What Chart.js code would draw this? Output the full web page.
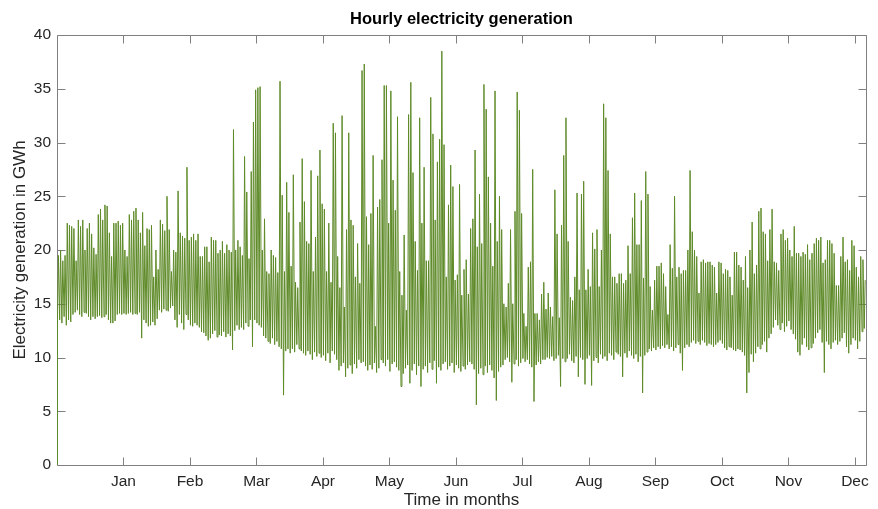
<!DOCTYPE html>
<html>
<head>
<meta charset="utf-8">
<script src="https://cdn.jsdelivr.net/npm/chart.js@4.4.1/dist/chart.umd.min.js"></script>
<style>
    html, body { margin: 0; padding: 0; background: #ffffff; }
    #wrap { width: 878px; height: 509px; }
</style>
</head>
<body>
<div id="wrap"><canvas id="generationChart" width="878" height="509"></canvas></div>
<script>
// Month tick labels and their hour positions on the x axis
const monthLabels = ['Jan', 'Feb', 'Mar', 'Apr', 'May', 'Jun', 'Jul', 'Aug', 'Sep', 'Oct', 'Nov', 'Dec'];
const monthTickHours = [720, 1440, 2160, 2880, 3600, 4320, 5040, 5760, 6480, 7200, 7920, 8640];

// First hour of the year (no reading)
const firstHourValue = 0;

// Daily peak generation in GWh (day 0 .. 364)
const dailyHigh = [
    19.5, 20, 19, 19.5, 22.5, 22.3, 22.2, 22, 19, 22.8,
    22.2, 22.8, 20, 22, 22.5, 21.5, 20.2, 19.6, 23.3, 23.8,
    22.8, 24.2, 24.1, 21.6, 19.4, 22.5, 22.5, 22.7, 22.3, 22.5,
    20, 19.4, 23.3, 22.8, 23.6, 23.9, 22.8, 21.6, 23.5, 20.4,
    22, 21.9, 22.3, 17.5, 20, 18.2, 22.8, 22.4, 21.8, 25,
    21.9, 18, 20, 19.8, 25.5, 21.6, 21.3, 21.1, 27.7, 20.9,
    21.2, 21.5, 20.9, 21.5, 19.4, 19.4, 20.3, 20.3, 18.9, 21.2,
    20.9, 20.9, 19.7, 20, 20.8, 19.7, 20.5, 20, 19.8, 31.2,
    20, 20.9, 20.3, 19.5, 28.7, 25.4, 19.2, 27.3, 31.9, 34.9,
    35.1, 35.2, 20, 22.9, 18, 17.8, 20, 19.5, 19.3, 17.9,
    35.7, 25.1, 18, 26.3, 23.5, 18.5, 27, 17, 16.5, 22.6,
    28.5, 24.5, 20.8, 20.6, 27.4, 18, 21.2, 26.9, 29.3, 24.3,
    23.8, 18, 22.5, 17, 31.8, 30.9, 19.4, 16.5, 32.5, 14.7,
    21.9, 30.9, 22.8, 22.3, 17.5, 20.6, 16.9, 36.7, 37.3, 23.1,
    20.5, 23.4, 28.8, 12.9, 24, 24.7, 28.4, 35.3, 35.3, 22.5,
    34.8, 26.5, 23.7, 32.4, 18, 15.8, 21.4, 14.4, 32.6, 35.6,
    27.2, 20.8, 18.1, 32.3, 22.5, 27.7, 19, 19, 34.2, 30.8,
    22.8, 28.2, 30.3, 38.5, 29.8, 17.5, 24.2, 27.9, 25.9, 17.2,
    17.7, 26.1, 15.8, 18.2, 19.1, 15.9, 22, 22.9, 29.3, 20.3,
    25.2, 20.6, 35.4, 33.1, 26.8, 22.5, 18.5, 34.8, 20.8, 25,
    21.9, 15, 14.7, 16.9, 21.9, 15, 23.6, 34.7, 33, 23.4,
    14.1, 12.9, 18.4, 18.9, 27.5, 14.1, 14.1, 13.5, 15.9, 17,
    14.5, 16, 14.7, 13.8, 25.6, 21.5, 13.7, 22.3, 28.8, 32.3,
    20.8, 15.6, 15.3, 17.5, 25.3, 16.3, 25.2, 26.4, 16.3, 18.2,
    16.6, 21.6, 20.1, 21.9, 16.6, 20, 33.6, 32.3, 27.4, 21.5,
    17.5, 17.5, 16.9, 17.8, 17.8, 16.9, 17.2, 20.4, 17.8, 23,
    25.3, 20.5, 20.5, 24.6, 17.4, 27.3, 25.2, 16.6, 14.4, 17.2,
    18.5, 18.5, 18.8, 17.8, 16.6, 14, 20.5, 18.3, 25, 17.5,
    18.4, 17.8, 18.1, 18.1, 20, 27.4, 21.7, 20, 19.4, 16,
    18.9, 19.1, 18.8, 18.9, 18.9, 18.6, 18.4, 16, 18.9, 18.8,
    17.8, 18.2, 18.1, 17.5, 15.8, 19.8, 19.8, 18.6, 18.4, 17.2,
    19.4, 16.5, 20, 22.6, 17.8, 18.6, 23.6, 23.9, 21.7, 21.5,
    19, 21.9, 23.8, 18.9, 18.8, 18.1, 21.5, 21.9, 20.9, 21.1,
    20, 19.4, 22.2, 19.7, 19.7, 19.4, 19.8, 19.6, 20.5, 19.1,
    19.7, 20.6, 21.1, 20.9, 21.2, 18.8, 19.1, 20.9, 20.9, 20.6,
    19.7, 16.7, 16.7, 19.4, 21.2, 18.9, 19.1, 18.1, 20.9, 20.4,
    18.4, 17.5, 19.4, 19.1, 17.2
];

// Daily low generation in GWh (day 0 .. 364)
const dailyLow = [
    13.5, 13.5, 13.2, 13.8, 13, 13.5, 13.3, 14, 14.2, 14.4,
    14, 13.8, 14.2, 14.1, 13.8, 13.5, 13.8, 13.6, 13.8, 13.9,
    13.7, 13.8, 14, 13.5, 13.2, 13.2, 13.4, 14, 14.1, 14,
    14.1, 14, 14.1, 14.2, 14, 14.1, 14, 14.2, 11.8, 13.5,
    13.2, 12.9, 13, 13.3, 13, 13.6, 14.4, 14.2, 14.5, 14.4,
    14.3, 14.6, 14.8, 13.5, 12.8, 14, 13.2, 12.6, 14, 13.5,
    13, 12.9, 13.2, 13, 12.8, 12.4, 12.3, 12, 11.6, 11.8,
    12.2, 12.5, 11.9, 12.1, 12, 12.4, 11.9, 12.2, 12, 10.7,
    12.5, 13, 12.6, 12.8, 12.6, 13.2, 12.9, 13.5, 11, 13.5,
    13.2, 13, 12.8, 12, 11.8, 11.5, 11.3, 11.8, 11.2, 11.5,
    11, 10.8, 6.5, 10.6, 10.8, 10.4, 10.8, 10.5, 11.2, 10.8,
    10.6, 10.4, 10.2, 10.6, 10.3, 9.8, 10.5, 10.1, 10.4, 10,
    10.2, 9.7, 10.4, 9.5, 10.6, 10.3, 9.8, 8.8, 9.2, 9.5,
    8.2, 9, 9.3, 8.5, 9.4, 9, 9.8, 9.5, 9.6, 9.2,
    8.8, 9.3, 8.9, 9.5, 8.6, 9, 9.8, 9.5, 9.2, 9.8,
    8.7, 9.4, 9.6, 9.1, 8.8, 7.3, 8.5, 9, 9.3, 7.6,
    8.8, 9.4, 8.4, 9.2, 7.3, 8.9, 9.2, 8.6, 9.5, 8.9,
    9.7, 7.6, 9.1, 8.8, 9.4, 9.6, 8.9, 9.2, 9.5, 8.6,
    9.3, 9, 8.7, 9.2, 8.9, 9.3, 9.6, 9.4, 8.9, 5.6,
    8.5, 9, 8.4, 9.2, 8.6, 9.3, 8.8, 8.1, 6, 8.7,
    9.1, 9.3, 9.8, 10, 9.6, 7.7, 9.4, 9.8, 9.2, 9.5,
    9.9, 9.6, 9.8, 9.4, 9.1, 5.9, 9.3, 9.6, 9.4, 9.8,
    9.8, 10, 9.9, 10.1, 9.7, 9.9, 10.2, 7.3, 9.9, 9.6,
    9.9, 10.3, 9.7, 9.5, 10.1, 8.2, 10, 9.8, 7.5, 9.9,
    10.2, 7.4, 9.7, 10, 9.5, 10.3, 9.9, 10.1, 9.7, 10.4,
    10.2, 9.8, 10.5, 10.3, 10.1, 8.2, 10.4, 10, 10.6, 10.2,
    9.9, 10.3, 9.6, 10.1, 6.7, 10.2, 10.5, 10.8, 10.6, 10.9,
    10.7, 11, 10.8, 11.1, 10.9, 11.2, 10.8, 11, 10.6, 10.9,
    11.2, 10.4, 8.8, 10.9, 11.2, 11, 11.4, 11.6, 11.3, 11.5,
    11.2, 11.6, 11.4, 11.1, 11.3, 11.2, 11, 11.2, 11.4, 11.6,
    11.3, 10.9, 10.7, 11, 10.9, 10.7, 10.6, 10.8, 10.7, 10.5,
    10.2, 6.7, 8.6, 10.3, 9.6, 10.4, 11, 10.8, 11.2, 11.5,
    10.5, 11.8, 12.2, 12.8, 13.5, 13, 12.6, 13.2, 12.4, 12.9,
    13.4, 12.6, 12.2, 11.7, 10.5, 10.2, 11.2, 11.8, 11, 10.7,
    10.9, 11.3, 11.8, 12.3, 12.6, 11.4, 8.6, 11.5, 11.2, 10.8,
    11.4, 11.6, 11.2, 11.5, 11.8, 12.3, 11, 10.4, 11.2, 11.8,
    11.6, 10.8, 11.5, 12.4, 12.7
];

// Build the hourly line: night low, then afternoon peak for every day
function buildSeries() {
    const points = [{x: 0, y: firstHourValue}];
    for (let d = 0; d < dailyHigh.length; d++) {
        points.push({x: d * 24 + 5, y: dailyLow[d]});
        points.push({x: d * 24 + 15, y: dailyHigh[d]});
    }
    return points;
}

const axisColor = '#808080';
const textColor = '#262626';
const fontFamily = "'Liberation Sans', Arial, Helvetica, sans-serif";

// Draws the MATLAB style box with inward ticks, plus the title
const boxPlugin = {
    id: 'matlabBox',
    beforeDatasetsDraw(chart) {
        const {ctx, chartArea: a, scales} = chart;
        const left = Math.round(a.left) + 0.5;
        const right = Math.round(a.right) + 0.5;
        const top = Math.round(a.top) + 0.5;
        const bottom = Math.round(a.bottom) + 0.5;
        ctx.save();
        ctx.strokeStyle = axisColor;
        ctx.lineWidth = 1;
        ctx.beginPath();
        ctx.moveTo(left, top);
        ctx.lineTo(right, top);
        ctx.lineTo(right, bottom);
        ctx.lineTo(left, bottom);
        ctx.closePath();
        scales.x.ticks.forEach(t => {
            const px = Math.round(scales.x.getPixelForValue(t.value)) + 0.5;
            ctx.moveTo(px, bottom);
            ctx.lineTo(px, bottom - 8);
            ctx.moveTo(px, top);
            ctx.lineTo(px, top + 8);
        });
        scales.y.ticks.forEach(t => {
            const py = Math.round(scales.y.getPixelForValue(t.value)) + 0.5;
            ctx.moveTo(left, py);
            ctx.lineTo(left + 8, py);
            ctx.moveTo(right, py);
            ctx.lineTo(right - 8, py);
        });
        ctx.stroke();
        ctx.restore();
    },
    afterDraw(chart) {
        const {ctx, chartArea: a} = chart;
        ctx.save();
        ctx.fillStyle = '#000000';
        ctx.font = 'bold 16.5px ' + fontFamily;
        ctx.textAlign = 'center';
        ctx.textBaseline = 'middle';
        ctx.fillText('Hourly electricity generation', (a.left + a.right) / 2, 19);
        ctx.restore();
    }
};

const ctx = document.getElementById('generationChart').getContext('2d');
const myChart = new Chart(ctx, {
    type: 'line',
    data: {
        datasets: [{
            data: buildSeries(),
            borderColor: 'rgb(94, 138, 40)',
            borderWidth: 1,
            pointRadius: 0,
            tension: 0,
            fill: false,
        }],
    },
    options: {
        responsive: false,
        animation: false,
        devicePixelRatio: 1,
        layout: {
            padding: {left: 0, right: 12, top: 35, bottom: 0},
        },
        scales: {
            x: {
                type: 'linear',
                min: 0,
                max: 8760,
                afterFit: scale => { scale.height = 44; },
                afterBuildTicks: axis => axis.ticks = monthTickHours.map(v => ({value: v})),
                grid: {display: false, drawTicks: false},
                border: {display: false},
                ticks: {
                    callback: function (value, index) {
                        return monthLabels[index];
                    },
                    color: textColor,
                    font: {family: fontFamily, size: 15.5},
                    padding: 7,
                    maxRotation: 0,
                    minRotation: 0,
                    autoSkip: false,
                },
                title: {
                    display: true,
                    text: 'Time in months',
                    color: textColor,
                    font: {family: fontFamily, size: 17, lineHeight: 1},
                    padding: {top: 0, bottom: 0},
                },
            },
            y: {
                min: 0,
                max: 40,
                afterFit: scale => { scale.width = 57; },
                grid: {display: false, drawTicks: false},
                border: {display: false},
                ticks: {
                    stepSize: 5,
                    color: textColor,
                    font: {family: fontFamily, size: 15.5},
                    padding: 6,
                },
                title: {
                    display: true,
                    text: 'Electricity generation in GWh',
                    color: textColor,
                    font: {family: fontFamily, size: 17},
                    padding: {top: 10, bottom: 0},
                },
            },
        },
        plugins: {
            legend: {display: false},
            tooltip: {enabled: false},
            title: {display: false},
        },
    },
    plugins: [boxPlugin],
});
</script>
</body>
</html>
